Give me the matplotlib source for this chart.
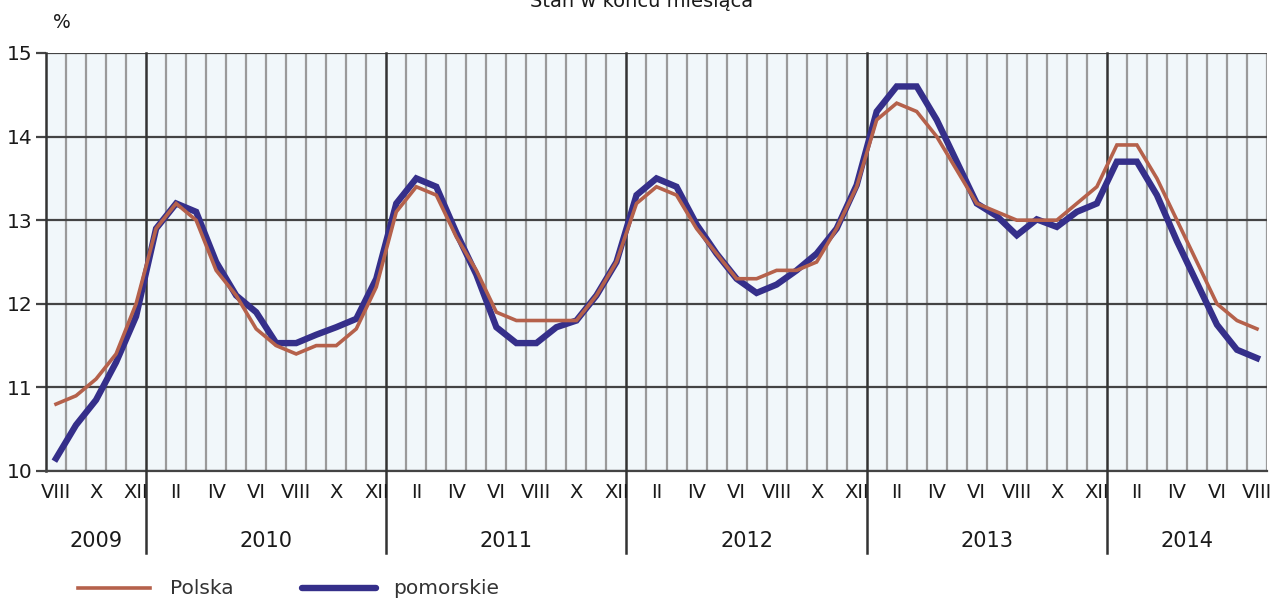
import numpy as np
import matplotlib
matplotlib.use("Agg")
import matplotlib.pyplot as plt
from matplotlib.lines import Line2D

plt.rcParams['font.family'] = ['DejaVu Sans']

# ---- data (VIII 2009 .. VIII 2014, monthly) ----
years = ["2009", "2010", "2011", "2012", "2013", "2014"]
months_per_year = [5, 12, 12, 12, 12, 8]
first_month = 8  # August 2009
roman = ["I", "II", "III", "IV", "V", "VI", "VII", "VIII", "IX", "X", "XI", "XII"]

polska = [10.8, 10.9, 11.1, 11.4, 12.0,
          12.9, 13.2, 13.0, 12.4, 12.1, 11.7, 11.5, 11.4, 11.5, 11.5, 11.7, 12.2,
          13.1, 13.4, 13.3, 12.8, 12.4, 11.9, 11.8, 11.8, 11.8, 11.8, 12.1, 12.5,
          13.2, 13.4, 13.3, 12.9, 12.6, 12.3, 12.3, 12.4, 12.4, 12.5, 12.9, 13.4,
          14.2, 14.4, 14.3, 14.0, 13.6, 13.2, 13.1, 13.0, 13.0, 13.0, 13.2, 13.4,
          13.9, 13.9, 13.5, 13.0, 12.5, 12.0, 11.8, 11.7]

pomorskie = [10.15, 10.55, 10.85, 11.3, 11.85,
             12.9, 13.2, 13.1, 12.5, 12.1, 11.9, 11.53, 11.53, 11.63, 11.72, 11.82, 12.3,
             13.2, 13.5, 13.4, 12.85, 12.35, 11.72, 11.53, 11.53, 11.72, 11.8, 12.1, 12.5,
             13.3, 13.5, 13.4, 12.95, 12.6, 12.3, 12.13, 12.23, 12.4, 12.6, 12.9, 13.42,
             14.3, 14.6, 14.6, 14.2, 13.7, 13.2, 13.05, 12.82, 13.01, 12.92, 13.1, 13.2,
             13.7, 13.7, 13.3, 12.75, 12.25, 11.75, 11.45, 11.35]

# ---- figure ----
W, H = 1272, 599
fig = plt.figure(figsize=(W / 100, H / 100), dpi=100)
L, R, T, B = 46, 1267, 53, 471
ax = fig.add_axes([L / W, 1 - B / H, (R - L) / W, (B - T) / H])
ax.set_facecolor('#f1f7fa')

n = len(polska)
x = np.arange(n) + 0.5
ax.set_xlim(0, n)
ax.set_ylim(10, 15)

# vertical month grid
year_starts = np.cumsum([0] + months_per_year)[:-1]
for i in range(1, n):
    if i in year_starts:
        continue
    ax.axvline(i, color='#9a9a9a', lw=1.6, zorder=1)
ax.axvline(n, color='#9a9a9a', lw=1.6, zorder=1)
# horizontal grid
for v in range(10, 16):
    ax.axhline(v, color='#444444', lw=1.6, zorder=2)
# year separators extending below axis
for s in year_starts[1:]:
    ax.plot([s, s], [-0.195, 1], transform=ax.get_xaxis_transform(),
            color='#333333', lw=1.8, clip_on=False, zorder=3)

ax.plot(x, polska, color='#b5614b', lw=2.6, zorder=5, solid_joinstyle='miter')
ax.plot(x, pomorskie, color='#352f8a', lw=4.6, zorder=4, solid_joinstyle='miter')

for sp in ['top', 'right']:
    ax.spines[sp].set_visible(False)
ax.spines['left'].set_color('#333333')
ax.spines['left'].set_linewidth(1.8)
ax.spines['bottom'].set_color('#444444')
ax.spines['bottom'].set_linewidth(1.6)

ax.set_yticks(range(10, 16))
ax.tick_params(axis='y', length=7, width=1.6, color='#444444', pad=3,
               labelsize=14.5, labelcolor='#1a1a1a')
ax.set_xticks([])

# month labels (even months) and year labels
trans = ax.get_xaxis_transform()
idx = 0
for yname, cnt in zip(years, months_per_year):
    start_m = first_month if yname == years[0] else 1
    for k in range(cnt):
        m = start_m + k
        if m % 2 == 0:
            ax.text(idx + k + 0.5, -0.052, roman[m - 1], transform=trans,
                    ha='center', va='center', fontsize=14, color='#1a1a1a')
    ax.text(idx + cnt / 2, -0.168, yname, transform=trans, ha='center',
            va='center', fontsize=15, color='#1a1a1a')
    idx += cnt

# % label and title
fig.text(62 / W, 1 - 22 / H, "%", ha='center', va='center', fontsize=13.5, color='#1a1a1a')
fig.text(642 / W, 1 - 7 / H, "Stan w końcu miesiąca", ha='center', va='baseline',
         fontsize=14, color='#1a1a1a')

# legend
ly = 1 - 588 / H
fig.add_artist(Line2D([78 / W, 150 / W], [ly, ly], color='#b5614b', lw=2.6))
fig.text(170 / W, ly, "Polska", ha='left', va='center', fontsize=14.5, color='#333333')
fig.add_artist(Line2D([302 / W, 376 / W], [ly, ly], color='#352f8a', lw=4.6,
                      solid_capstyle='round'))
fig.text(393 / W, ly, "pomorskie", ha='left', va='center', fontsize=14.5, color='#333333')

fig.savefig("out.png", dpi=100)
